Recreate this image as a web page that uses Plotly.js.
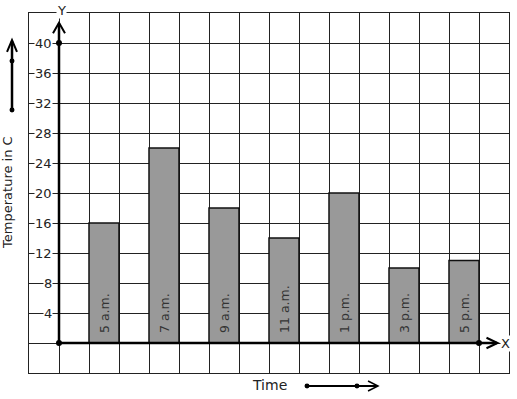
<!DOCTYPE html>
<html>
<head>
<meta charset="utf-8">
<script src="https://cdn.plot.ly/plotly-3.0.1.min.js"></script>
<style>html,body{margin:0;padding:0;background:#fff;}#chart{width:517px;height:399px;}</style>
</head>
<body>
<div id="chart"></div>
<script>
// ---- data ----
const categories = ["5 a.m.", "7 a.m.", "9 a.m.", "11 a.m.", "1 p.m.", "3 p.m.", "5 p.m."];
const temperatures = [16, 26, 18, 14, 20, 10, 11];
const yTickValues = [4, 8, 12, 16, 20, 24, 28, 32, 36, 40];
const yTitle = "Temperature in C";
const xTitle = "Time";

// bar centres: one empty grid column between bars
const xPos = categories.map((c, i) => 1.5 + 2 * i);
const FONT = "DejaVu Sans, sans-serif";
const TXT = "#222";

const bars = {
  type: "bar",
  x: xPos,
  y: temperatures,
  width: 1,
  marker: {color: "#999999", line: {color: "#111", width: 1.5}},
  hoverinfo: "none",
  cliponaxis: false
};

const dots = {
  type: "scatter",
  mode: "markers",
  x: [0, 0, 14],
  y: [0, 40, 0],
  marker: {color: "#000", size: 6},
  cliponaxis: false,
  hoverinfo: "none"
};

const annotations = yTickValues.map(v => ({
  x: -0.2, y: v, xref: "x", yref: "y",
  text: String(v), showarrow: false, xanchor: "right", yanchor: "middle",
  font: {family: FONT, size: 13, color: TXT},
  bgcolor: "#fff", borderpad: 0
}));
// category labels written upward inside the bars
categories.forEach((c, i) => annotations.push({
  x: xPos[i], y: 0, xref: "x", yref: "y",
  text: c, showarrow: false, textangle: -90,
  xanchor: "center", yanchor: "bottom", yshift: 9, borderpad: 0,
  font: {family: FONT, size: 12.5, color: "#333"}
}));
annotations.push(
  {x: 0.0667, y: 1.008, xref: "paper", yref: "paper", text: "Y", showarrow: false,
   xanchor: "center", yanchor: "middle", font: {family: FONT, size: 13, color: TXT}, bgcolor: "#fff", borderpad: 0},
  {x: 0.993, y: 0.0833, xref: "paper", yref: "paper", text: "X", showarrow: false,
   xanchor: "center", yanchor: "middle", font: {family: FONT, size: 13, color: TXT}, bgcolor: "#fff", borderpad: 0},
  {x: -0.0438, y: 0.503, xref: "paper", yref: "paper", text: yTitle, showarrow: false, textangle: -90,
   xanchor: "center", yanchor: "middle", font: {family: FONT, size: 13, color: TXT}},
  {x: 0.502, y: -0.0333, xref: "paper", yref: "paper", text: xTitle, showarrow: false,
   xanchor: "center", yanchor: "middle", font: {family: FONT, size: 14, color: TXT}}
);

function dot(px, py) {
  return {type: "circle", xref: "paper", yref: "paper",
    x0: px - 0.0052, x1: px + 0.0052, y0: py - 0.0069, y1: py + 0.0069,
    fillcolor: "#000", line: {width: 0}};
}

const shapes = [
  // y axis with arrow
  {type: "line", xref: "x", yref: "y", x0: 0, y0: 0, x1: 0, y1: 42.6, line: {color: "#000", width: 2.5}},
  {type: "path", xref: "x", yref: "y", path: "M -0.2,41.3 L 0,42.7 L 0.2,41.3", line: {color: "#000", width: 2}},
  // x axis with arrow
  {type: "line", xref: "x", yref: "y", x0: 0, y0: 0, x1: 14.6, y1: 0, line: {color: "#000", width: 2.5}},
  {type: "path", xref: "x", yref: "y", path: "M 14.25,0.7 L 14.62,0 L 14.25,-0.7", line: {color: "#000", width: 2}},
  // left vertical arrow
  {type: "line", xref: "paper", yref: "paper", x0: -0.0354, y0: 0.7306, x1: -0.0354, y1: 0.922, line: {color: "#000", width: 2.5}},
  {type: "path", xref: "paper", yref: "paper", path: "M -0.0458,0.8917 L -0.0354,0.925 L -0.025,0.8917", line: {color: "#000", width: 2}},
  dot(-0.0354, 0.8667), dot(-0.0354, 0.7306),
  // time arrow
  {type: "line", xref: "paper", yref: "paper", x0: 0.5792, y0: -0.0361, x1: 0.726, y1: -0.0361, line: {color: "#000", width: 2}},
  {type: "path", xref: "paper", yref: "paper", path: "M 0.7063,-0.0222 L 0.7271,-0.0361 L 0.7063,-0.05", line: {color: "#000", width: 1.5}},
  dot(0.5792, -0.0361), dot(0.6833, -0.0361)
];

const axisCommon = {
  showgrid: true, gridcolor: "#222", gridwidth: 1,
  zeroline: false, showticklabels: false, ticks: "",
  showline: true, mirror: true, linecolor: "#222", linewidth: 1,
  fixedrange: true
};

const layout = {
  width: 517, height: 399,
  margin: {l: 29, r: 8, t: 13, b: 26, pad: 0},
  paper_bgcolor: "#fff", plot_bgcolor: "#fff",
  showlegend: false,
  font: {family: FONT, color: TXT},
  xaxis: Object.assign({range: [-1, 15], tick0: 0, dtick: 1}, axisCommon),
  yaxis: Object.assign({range: [-4, 44], tick0: 0, dtick: 4}, axisCommon),
  annotations: annotations,
  shapes: shapes
};

Plotly.newPlot("chart", [bars, dots], layout, {displayModeBar: false, staticPlot: true});
</script>
</body>
</html>
